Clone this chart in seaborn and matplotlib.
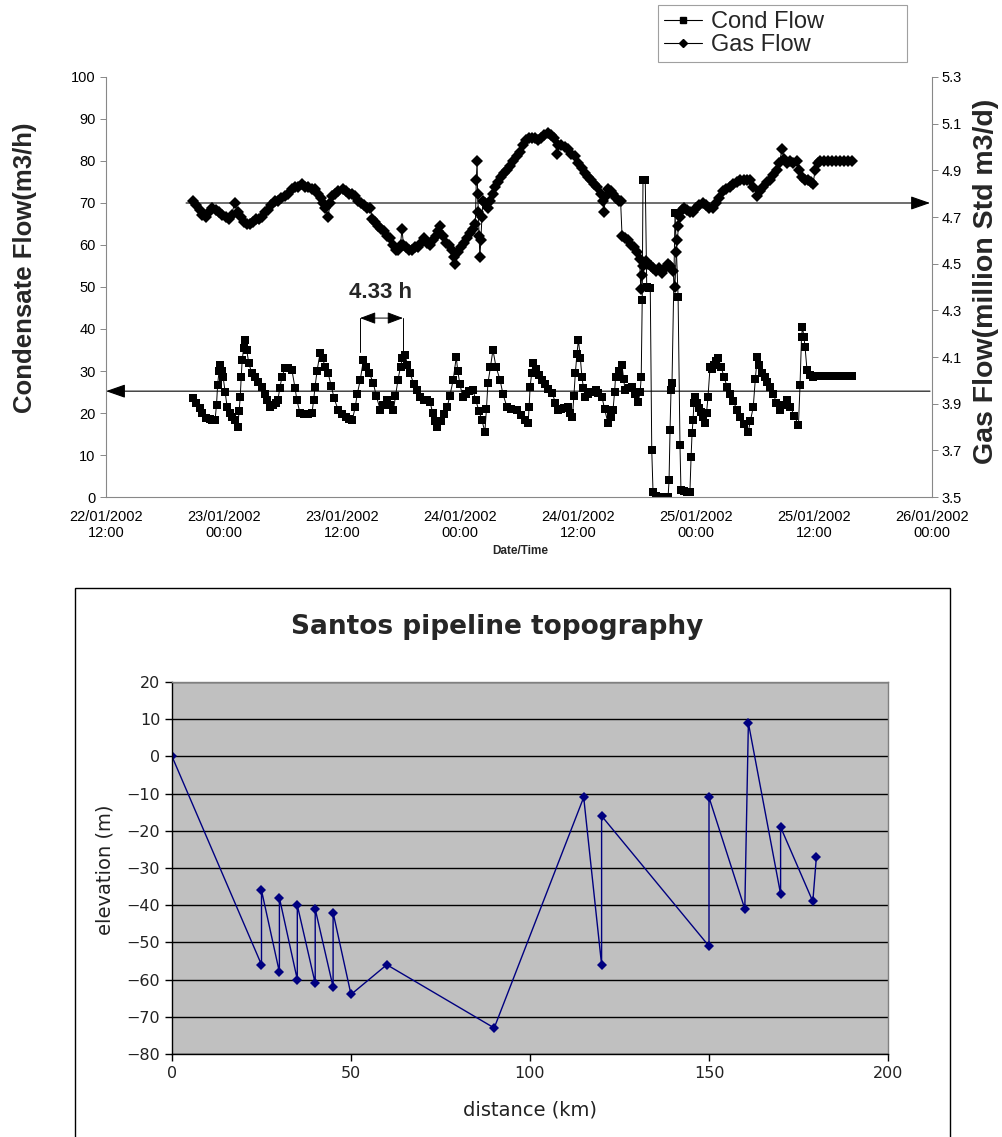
import numpy as np
import pandas as pd
import matplotlib
matplotlib.use("Agg")
import matplotlib.pyplot as plt
import matplotlib.dates as mdates
from matplotlib.patches import Rectangle
from matplotlib.lines import Line2D
from matplotlib.ticker import FormatStrFormatter
import seaborn as sns

# ---------------- data: top chart (hours after 22/01/2002 12:00, value) ----------------
cond_readings = [
    (8.89, 23.5), (9.20, 22.5), (9.51, 21.2), (9.81, 20.0), (10.22, 18.8), (10.53, 18.5),
    (10.83, 18.3), (11.09, 18.3), (11.24, 22.0), (11.35, 26.7), (11.50, 30.0), (11.60, 31.4),
    (11.75, 30.0), (11.91, 28.6), (12.11, 25.0), (12.32, 21.4), (12.57, 20.0), (12.83, 19.0),
    (13.13, 18.3), (13.39, 16.7), (13.54, 20.5), (13.65, 23.8), (13.75, 28.5), (13.85, 32.6),
    (14.00, 35.5), (14.16, 37.4), (14.31, 35.0), (14.51, 32.0), (14.82, 29.5), (15.13, 28.5),
    (15.43, 27.5), (15.84, 26.2), (16.15, 24.5), (16.35, 23.0), (16.66, 21.4), (16.97, 21.8),
    (17.27, 22.5), (17.48, 23.1), (17.68, 26.0), (17.89, 28.5), (18.19, 30.7), (18.50, 30.8),
    (18.91, 30.2), (19.22, 26.0), (19.42, 23.0), (19.73, 20.0), (20.14, 19.8), (20.54, 19.8),
    (20.95, 20.0), (21.11, 23.0), (21.26, 26.2), (21.46, 30.0), (21.77, 34.3), (22.03, 33.0),
    (22.28, 31.0), (22.59, 29.5), (22.90, 26.5), (23.20, 23.5), (23.61, 20.7), (24.02, 19.8),
    (24.43, 19.0), (24.73, 18.6), (25.04, 18.3), (25.35, 21.4), (25.55, 24.5), (25.86, 27.9),
    (26.17, 32.6), (26.47, 31.0), (26.78, 29.5), (27.19, 27.1), (27.49, 24.0), (27.90, 20.7),
    (28.21, 21.8), (28.62, 23.1), (28.93, 22.0), (29.23, 20.7), (29.44, 24.0), (29.69, 27.9),
    (29.95, 31.0), (30.15, 33.0), (30.41, 33.8), (30.66, 31.5), (30.92, 29.5), (31.28, 27.0),
    (31.58, 25.5), (31.94, 23.8), (32.30, 23.2), (32.60, 23.0), (32.96, 22.6), (33.22, 20.0),
    (33.47, 18.0), (33.68, 16.7), (34.04, 18.0), (34.34, 19.8), (34.70, 21.4), (34.96, 24.0),
    (35.31, 27.9), (35.62, 33.3), (35.77, 30.0), (35.98, 27.0), (36.28, 23.8), (36.59, 24.5),
    (36.90, 25.2), (37.31, 25.5), (37.61, 23.0), (37.92, 20.5), (38.23, 18.3), (38.53, 15.5),
    (38.69, 21.0), (38.84, 27.1), (39.10, 31.0), (39.35, 35.0), (39.66, 31.0), (40.07, 27.9),
    (40.37, 24.5), (40.78, 21.4), (41.19, 21.0), (41.80, 20.7), (42.21, 19.5), (42.62, 18.3),
    (42.93, 17.6), (43.03, 21.5), (43.13, 26.2), (43.29, 29.5), (43.44, 31.9), (43.75, 30.5),
    (44.05, 29.0), (44.36, 27.9), (44.67, 26.8), (44.97, 25.8), (45.38, 24.8), (45.69, 22.5),
    (45.99, 20.7), (46.30, 21.0), (46.61, 21.2), (47.02, 21.4), (47.22, 20.0), (47.43, 19.0),
    (47.58, 24.0), (47.73, 29.5), (47.89, 34.0), (48.04, 37.4), (48.24, 33.0), (48.40, 28.6),
    (48.55, 26.0), (48.75, 23.8), (49.06, 24.5), (49.37, 25.0), (49.78, 25.5), (50.08, 24.8),
    (50.44, 23.8), (50.70, 21.0), (51.05, 17.6), (51.31, 19.0), (51.56, 20.7), (51.72, 25.0),
    (51.82, 28.6), (52.13, 30.0), (52.48, 31.4), (52.64, 28.0), (52.79, 25.5), (53.15, 26.0),
    (53.51, 26.2), (53.81, 24.5), (54.12, 22.6), (54.32, 25.0), (54.43, 28.6), (54.53, 46.9),
    (54.61, 75.5), (54.73, 75.5), (54.84, 75.5), (54.99, 50.0), (55.19, 49.8), (55.35, 49.8),
    (55.50, 11.2), (55.63, 1.2), (55.91, 0.2), (56.22, 0.0), (56.52, 0.0), (56.83, 0.0),
    (57.16, 0.0), (57.26, 4.0), (57.36, 16.0), (57.46, 25.5), (57.56, 27.1), (57.87, 67.6),
    (58.18, 47.6), (58.37, 12.4), (58.47, 1.7), (58.77, 1.5), (59.08, 1.3), (59.38, 1.2),
    (59.50, 9.5), (59.60, 15.2), (59.70, 18.3), (59.79, 22.4), (59.90, 23.8), (60.10, 22.5),
    (60.30, 21.2), (60.51, 20.2), (60.71, 19.0), (60.92, 17.6), (61.07, 20.0), (61.22, 23.8),
    (61.43, 31.0), (61.63, 30.5), (61.84, 31.5), (62.04, 32.5), (62.25, 33.1), (62.55, 31.0),
    (62.86, 28.5), (63.17, 26.2), (63.47, 24.5), (63.78, 22.8), (64.19, 20.7), (64.49, 19.0),
    (64.90, 17.3), (65.31, 15.5), (65.52, 18.0), (65.82, 21.4), (66.03, 28.0), (66.23, 33.3),
    (66.44, 31.5), (66.74, 29.5), (67.05, 28.5), (67.25, 27.3), (67.56, 26.2), (67.87, 24.5),
    (68.17, 22.5), (68.58, 20.7), (68.89, 22.0), (69.30, 23.1), (69.60, 21.5), (70.01, 19.3),
    (70.42, 17.1), (70.58, 26.7), (70.73, 38.0), (70.83, 40.5), (70.98, 38.0), (71.09, 35.7),
    (71.29, 30.2), (71.55, 29.0), (71.90, 28.6), (72.26, 28.8), (72.57, 28.8), (72.98, 28.8),
    (73.39, 28.8), (73.80, 28.8), (74.20, 28.8), (74.61, 28.8), (75.02, 28.8), (75.43, 28.8),
    (75.84, 28.8),
]
cond_hours = [h for h, _ in cond_readings]
cond_flow = [v for _, v in cond_readings]

gas_readings = [
    (8.89, 4.77), (9.20, 4.75), (9.51, 4.73), (9.81, 4.71), (10.12, 4.70), (10.43, 4.72),
    (10.73, 4.74), (11.14, 4.73), (11.45, 4.72), (11.75, 4.71), (12.16, 4.70), (12.47, 4.69),
    (12.78, 4.71), (13.08, 4.76), (13.39, 4.72), (13.70, 4.70), (14.00, 4.68), (14.31, 4.67),
    (14.62, 4.67), (14.92, 4.68), (15.23, 4.69), (15.54, 4.69), (15.84, 4.70), (16.15, 4.72),
    (16.46, 4.73), (16.76, 4.75), (17.17, 4.77), (17.48, 4.77), (17.78, 4.78), (18.19, 4.79),
    (18.50, 4.80), (18.91, 4.82), (19.22, 4.83), (19.52, 4.83), (19.93, 4.84), (20.24, 4.83),
    (20.54, 4.83), (20.95, 4.82), (21.26, 4.82), (21.57, 4.80), (21.87, 4.78), (22.08, 4.76),
    (22.28, 4.74), (22.59, 4.70), (22.79, 4.76), (23.00, 4.79), (23.30, 4.80), (23.61, 4.81),
    (24.12, 4.82), (24.43, 4.81), (24.73, 4.80), (25.04, 4.80), (25.35, 4.79), (25.65, 4.77),
    (25.96, 4.76), (26.27, 4.75), (26.57, 4.74), (26.88, 4.74), (27.09, 4.69), (27.39, 4.68),
    (27.70, 4.66), (28.01, 4.65), (28.31, 4.64), (28.62, 4.62), (28.93, 4.61), (29.23, 4.58),
    (29.54, 4.56), (29.74, 4.56), (29.95, 4.58), (30.10, 4.65), (30.25, 4.58), (30.46, 4.57),
    (30.77, 4.56), (31.07, 4.56), (31.38, 4.57), (31.69, 4.57), (31.99, 4.59), (32.30, 4.61),
    (32.60, 4.59), (32.91, 4.58), (33.22, 4.60), (33.52, 4.62), (33.73, 4.64), (33.93, 4.66),
    (34.24, 4.62), (34.55, 4.59), (34.85, 4.58), (35.16, 4.56), (35.36, 4.53), (35.52, 4.50),
    (35.77, 4.55), (36.08, 4.57), (36.39, 4.59), (36.69, 4.61), (37.00, 4.63), (37.31, 4.65),
    (37.56, 4.67), (37.66, 4.86), (37.74, 4.94), (37.79, 4.80), (37.87, 4.72), (37.94, 4.62),
    (38.02, 4.53), (38.12, 4.60), (38.23, 4.70), (38.33, 4.77), (38.58, 4.76), (38.84, 4.74),
    (39.10, 4.77), (39.35, 4.80), (39.61, 4.83), (39.86, 4.85), (40.17, 4.87), (40.47, 4.89),
    (40.78, 4.90), (41.09, 4.92), (41.40, 4.94), (41.80, 4.96), (42.11, 4.98), (42.42, 5.01),
    (42.72, 5.03), (43.03, 5.04), (43.34, 5.04), (43.64, 5.04), (43.95, 5.03), (44.26, 5.04),
    (44.56, 5.05), (44.97, 5.06), (45.28, 5.05), (45.59, 5.04), (45.89, 4.97), (45.99, 5.01),
    (46.30, 5.01), (46.71, 5.00), (47.02, 4.99), (47.32, 4.97), (47.73, 4.96), (48.04, 4.93),
    (48.45, 4.91), (48.75, 4.89), (49.06, 4.87), (49.37, 4.86), (49.67, 4.84), (49.98, 4.83),
    (50.29, 4.80), (50.54, 4.77), (50.64, 4.72), (50.80, 4.79), (51.05, 4.82), (51.31, 4.81),
    (51.51, 4.80), (51.82, 4.78), (52.13, 4.77), (52.33, 4.77), (52.48, 4.62), (52.74, 4.61),
    (53.05, 4.60), (53.35, 4.58), (53.66, 4.57), (53.97, 4.55), (54.27, 4.52), (54.38, 4.39),
    (54.48, 4.45), (54.63, 4.49), (54.89, 4.51), (55.14, 4.50), (55.40, 4.49), (55.65, 4.48),
    (55.91, 4.47), (56.22, 4.48), (56.52, 4.46), (56.83, 4.48), (57.14, 4.50), (57.34, 4.49),
    (57.65, 4.47), (57.85, 4.40), (58.00, 4.55), (58.11, 4.60), (58.21, 4.66), (58.36, 4.70),
    (58.57, 4.73), (58.77, 4.74), (59.08, 4.73), (59.38, 4.72), (59.69, 4.72), (60.00, 4.74),
    (60.30, 4.75), (60.71, 4.76), (61.02, 4.75), (61.33, 4.74), (61.73, 4.74), (62.04, 4.76),
    (62.35, 4.78), (62.76, 4.81), (63.06, 4.82), (63.47, 4.83), (63.78, 4.84), (64.19, 4.85),
    (64.49, 4.86), (64.90, 4.86), (65.21, 4.86), (65.52, 4.86), (65.82, 4.83), (66.23, 4.79),
    (66.54, 4.81), (66.84, 4.83), (67.25, 4.85), (67.56, 4.86), (67.87, 4.88), (68.27, 4.90),
    (68.48, 4.93), (68.74, 4.99), (68.99, 4.95), (69.30, 4.93), (69.60, 4.94), (69.91, 4.93),
    (70.32, 4.94), (70.52, 4.90), (70.78, 4.87), (71.04, 4.86), (71.34, 4.86), (71.65, 4.85),
    (71.90, 4.84), (72.11, 4.90), (72.36, 4.93), (72.57, 4.94), (72.98, 4.94), (73.39, 4.94),
    (73.80, 4.94), (74.20, 4.94), (74.61, 4.94), (75.02, 4.94), (75.43, 4.94), (75.84, 4.94),
]
gas_hours = [h for h, _ in gas_readings]
gas_flow = [v for _, v in gas_readings]

cond_yticks = [0, 10, 20, 30, 40, 50, 60, 70, 80, 90, 100]
gas_yticks = [3.5, 3.7, 3.9, 4.1, 4.3, 4.5, 4.7, 4.9, 5.1, 5.3]
cond_ref_level = 25.2      # horizontal reference line, condensate
gas_ref_level_left = 70.0  # horizontal reference line, gas (left-axis units)
period_start_h, period_end_h = 25.83, 30.20   # "4.33 h" marker
period_label = "4.33 h"

# ---------------- data: bottom chart ----------------
distance_km = [0, 25, 25, 30, 30, 35, 35, 40, 40, 45, 45, 50, 60, 90,
               115, 120, 120, 150, 150, 160, 161, 170, 170, 179, 180]
elevation_m = [0, -56, -36, -58, -38, -60, -40, -61, -41, -62, -42, -64, -56, -73,
               -11, -56, -16, -51, -11, -41, 9, -37, -19, -39, -27]
topo_xticks = [0, 50, 100, 150, 200]
topo_yticks = [-80, -70, -60, -50, -40, -30, -20, -10, 0, 10, 20]

# ---------------- figure ----------------
sns.set_theme(style="white")
plt.rcParams["font.family"] = ["Liberation Sans", "DejaVu Sans"]

W, H = 1003, 1137
fig = plt.figure(figsize=(W / 100, H / 100), dpi=100)
fig.patch.set_facecolor("white")


def fx(px):
    return px / W


def fy(py):
    return 1 - py / H


base = pd.Timestamp("2002-01-22 12:00")
cond_df = pd.DataFrame({"time": base + pd.to_timedelta(cond_hours, unit="h"), "flow": cond_flow})
gas_df = pd.DataFrame({"time": base + pd.to_timedelta(gas_hours, unit="h"), "flow": gas_flow})

L, R, T, B = 106, 932, 77, 497
ax1 = fig.add_axes([fx(L), fy(B), (R - L) / W, (B - T) / H])
ax1.set_facecolor("white")
ax2 = ax1.twinx()

sns.lineplot(data=cond_df, x="time", y="flow", ax=ax1, color="black", lw=0.7,
             marker="s", markersize=6.3, markeredgewidth=0, estimator=None, sort=False)
sns.lineplot(data=gas_df, x="time", y="flow", ax=ax2, color="black", lw=0.7,
             marker="D", markersize=6.5, markeredgewidth=0, estimator=None, sort=False)

x0 = base
x1 = base + pd.Timedelta(hours=84)
ax1.set_xlim(x0, x1)
ax1.set_ylim(0, 100)
ax2.set_ylim(3.5, 5.3)
ax1.set_yticks(cond_yticks)
ax2.set_yticks(gas_yticks)
ax2.yaxis.set_major_formatter(FormatStrFormatter("%.1f"))
ax1.set_xticks(pd.date_range(x0, x1, freq="12h"))
ax1.xaxis.set_major_formatter(mdates.DateFormatter("%d/%m/%Y\n%H:%M"))
ax1.set_xlabel("")
ax1.set_ylabel("")
ax2.set_ylabel("")

for ax in (ax1, ax2):
    for s in ax.spines.values():
        s.set_visible(False)
ax1.spines["left"].set_visible(True)
ax1.spines["bottom"].set_visible(True)
ax2.spines["right"].set_visible(True)
for s in (ax1.spines["left"], ax1.spines["bottom"], ax2.spines["right"]):
    s.set_color("#888888")
    s.set_linewidth(0.8)

ax1.tick_params(axis="both", direction="out", length=4, width=0.7, color="#888888",
                labelsize=10.5, labelcolor="black")
ax1.tick_params(axis="x", pad=5)
ax2.tick_params(axis="y", direction="out", length=4, width=0.7, color="#888888",
                labelsize=10.5, labelcolor="black", pad=3)
for lab in ax1.get_xticklabels():
    lab.set_linespacing(1.25)


def tnum(h):
    return mdates.date2num((base + pd.Timedelta(hours=h)).to_pydatetime())


# reference lines with arrows
ax1.annotate("", xy=(tnum(83.8), gas_ref_level_left), xytext=(tnum(8.14), gas_ref_level_left),
             arrowprops=dict(arrowstyle="-|>,head_length=1.0,head_width=0.35", color="black",
                             lw=0.8, shrinkA=0, shrinkB=0))
ax1.annotate("", xy=(tnum(0.0), cond_ref_level), xytext=(tnum(83.8), cond_ref_level),
             arrowprops=dict(arrowstyle="-|>,head_length=1.0,head_width=0.35", color="black",
                             lw=0.8, shrinkA=0, shrinkB=0))

# period marker
ax1.plot([tnum(period_start_h)] * 2, [34.5, 42.6], color="black", lw=0.7)
ax1.plot([tnum(period_end_h)] * 2, [34.5, 42.6], color="black", lw=0.7)
ax1.annotate("", xy=(tnum(period_start_h), 42.6), xytext=(tnum(period_end_h), 42.6),
             arrowprops=dict(arrowstyle="<|-|>,head_length=0.8,head_width=0.3", color="black",
                             lw=0.7, shrinkA=0, shrinkB=0))
ax1.text(tnum(27.9), 48.8, period_label, ha="center", va="center", fontsize=16,
         fontweight="bold")

# axis titles
fig.text(fx(25), fy(268), "Condensate Flow(m3/h)", rotation=90, ha="center", va="center",
         fontsize=18.5, fontweight="bold")
fig.text(fx(986), fy(281), "Gas Flow(million Std m3/d)", rotation=90, ha="center",
         va="center", fontsize=20.5, fontweight="bold")
fig.text(fx(520), fy(551), "Date/Time", ha="center", va="center", fontsize=8.5,
         fontweight="bold")

# legend
handles = [Line2D([], [], color="black", lw=0.8, marker="s", ms=5, label="Cond Flow"),
           Line2D([], [], color="black", lw=0.8, marker="D", ms=4, label="Gas Flow")]
leg = fig.legend(handles=handles, loc="upper left",
                 bbox_to_anchor=(fx(658), fy(68), (907 - 658) / W, (68 - 5) / H),
                 mode="expand", fontsize=17, frameon=True, fancybox=False,
                 handlelength=1.6, handletextpad=0.4, borderpad=0.25, labelspacing=0.05,
                 borderaxespad=0)
leg.get_frame().set_edgecolor("#888888")
leg.get_frame().set_linewidth(0.8)

# ---------------- bottom chart ----------------
fig.add_artist(Rectangle((fx(75), fy(1145)), (950 - 75) / W, (1145 - 588) / H,
                         transform=fig.transFigure, fill=False, ec="black", lw=1.0))

ax3 = fig.add_axes([fx(172), fy(1054), (888 - 172) / W, (1054 - 682) / H])
ax3.set_facecolor("#C0C0C0")
sns.lineplot(x=distance_km, y=elevation_m, ax=ax3, sort=False, estimator=None,
             color="#000080", lw=1.0, marker="D", markersize=5, markeredgewidth=0)
ax3.set_xlim(0, 200)
ax3.set_ylim(-80, 20)
ax3.set_xticks(topo_xticks)
ax3.set_yticks(topo_yticks)
ax3.yaxis.grid(True, color="black", lw=1.0)
ax3.xaxis.grid(False)
ax3.set_axisbelow(True)
for side in ("left", "bottom"):
    ax3.spines[side].set_color("black")
    ax3.spines[side].set_linewidth(1.0)
for side in ("top", "right"):
    ax3.spines[side].set_color("#808080")
    ax3.spines[side].set_linewidth(1.0)
ax3.tick_params(axis="both", direction="out", length=5, width=1, color="black",
                labelsize=11.5, labelcolor="#222222", left=True, bottom=True)
for lab in ax3.get_xticklabels() + ax3.get_yticklabels():
    lab.set_family("DejaVu Sans")
ax3.set_xlabel("")
ax3.set_ylabel("")

fig.text(fx(497), fy(627), "Santos pipeline topography", ha="center", va="center",
         fontsize=19, fontweight="bold", family="DejaVu Sans")
fig.text(fx(530), fy(1110), "distance (km)", ha="center", va="center", fontsize=14,
         family="DejaVu Sans", color="#222222")
fig.text(fx(105), fy(870), "elevation (m)", ha="center", va="center", rotation=90,
         fontsize=14, family="DejaVu Sans", color="#222222")

fig.savefig("out.png", dpi=100, facecolor="white")
